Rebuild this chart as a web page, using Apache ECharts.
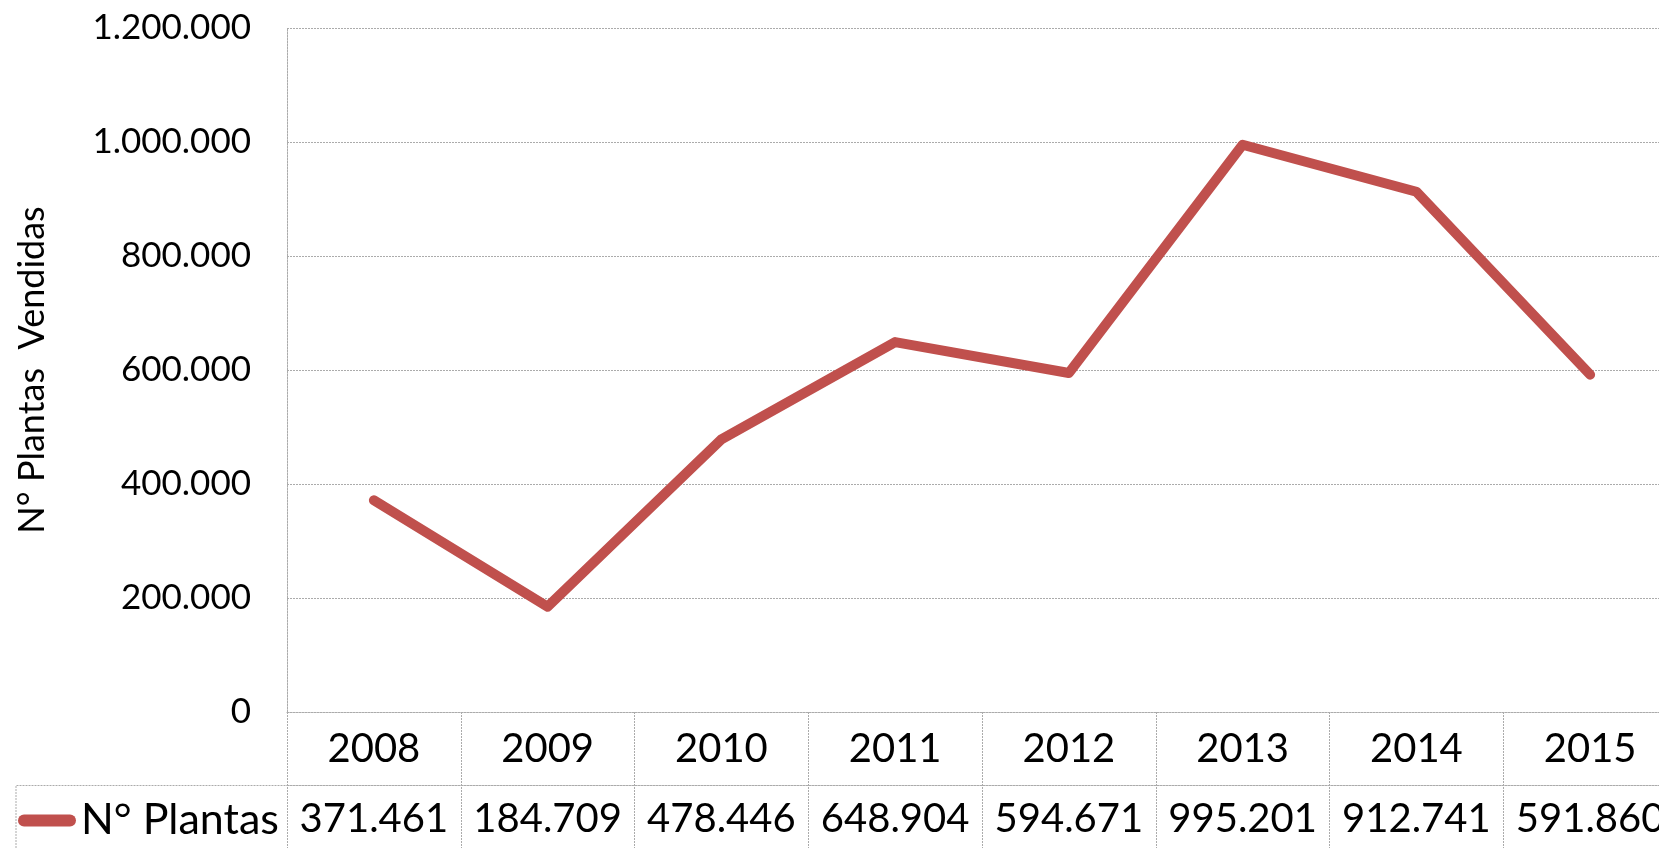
<!DOCTYPE html>
<html>
<head>
<meta charset="utf-8">
<title>N° Plantas Vendidas</title>
<script src="https://cdn.jsdelivr.net/npm/echarts@6/dist/echarts.min.js"></script>
<style>
  html, body { margin: 0; padding: 0; background: #fff; }
  #chart { width: 1659px; height: 848px; }
</style>
</head>
<body>
<div id="chart"></div>
<script>
// datos del gráfico
const years = ['2008', '2009', '2010', '2011', '2012', '2013', '2014', '2015']
const plantas = [371461, 184709, 478446, 648904, 594671, 995201, 912741, 591860]
const seriesName = 'N° Plantas'
const yAxisTitle = 'N° Plantas  Vendidas'
const yMin = 0
const yMax = 1200000
const yStep = 200000

// separador de miles con punto
const fmt = v => String(v).replace(/\B(?=(\d{3})+(?!\d))/g, '.')

const gridColor = '#ababab'
const dotted = { color: gridColor, width: 1, type: [2, 1] }

const chart = echarts.init(document.getElementById('chart'), null, { renderer: 'canvas' })

chart.setOption({
  animation: false,
  textStyle: { fontFamily: 'Lato' },
  grid: {
    left: 287,
    top: 28,
    width: 1390, // la última columna queda cortada por el borde
    height: 684,
    containLabel: false,
    outerBoundsMode: 'none'
  },
  legend: {
    data: [seriesName],
    left: 18,
    top: 799,
    padding: 0,
    icon: 'path://M6,0H52A6,6,0,0,1,52,12H6A6,6,0,0,1,6,0Z',
    itemWidth: 58,
    itemHeight: 12,
    textStyle: { fontSize: 43, color: '#000', fontFamily: 'Lato' }
  },
  xAxis: [
    {
      // fila de años
      type: 'category',
      data: years,
      position: 'bottom',
      boundaryGap: true,
      axisLine: { show: true, lineStyle: dotted },
      axisTick: { show: true, length: 136, lineStyle: dotted },
      axisLabel: {
        interval: 0,
        fontSize: 40,
        color: '#000',
        margin: 37,
        verticalAlign: 'middle'
      },
      splitLine: { show: false }
    },
    {
      // fila de valores (tabla de datos)
      type: 'category',
      data: years,
      position: 'bottom',
      offset: 73,
      boundaryGap: true,
      axisLine: { show: true, lineStyle: dotted },
      axisTick: { show: false },
      axisLabel: {
        interval: 0,
        fontSize: 40,
        color: '#000',
        margin: 34,
        verticalAlign: 'middle',
        formatter: (v, i) => fmt(plantas[i])
      },
      splitLine: { show: false }
    }
  ],
  yAxis: {
    type: 'value',
    min: yMin,
    max: yMax,
    interval: yStep,
    name: yAxisTitle,
    nameLocation: 'middle',
    nameRotate: 90,
    nameGap: 237,
    nameTextStyle: { fontSize: 36, color: '#000' },
    axisLine: { show: true, lineStyle: dotted },
    axisTick: { show: false },
    axisLabel: {
      fontSize: 35,
      color: '#000',
      margin: 36,
      formatter: v => fmt(v)
    },
    splitLine: { show: true, lineStyle: dotted }
  },
  // bordes izquierdos de la tabla de datos
  graphic: [
    {
      type: 'polyline',
      silent: true,
      shape: { points: [[16, 848], [16, 785.5], [287, 785.5]] },
      style: { stroke: gridColor, lineWidth: 1, lineDash: [2, 1], fill: null }
    }
  ],
  series: [
    {
      name: seriesName,
      type: 'line',
      xAxisIndex: 0,
      data: plantas,
      symbol: 'none',
      itemStyle: { color: '#c0504d' },
      lineStyle: { color: '#c0504d', width: 10, cap: 'round', join: 'round' }
    }
  ]
})
</script>
</body>
</html>
